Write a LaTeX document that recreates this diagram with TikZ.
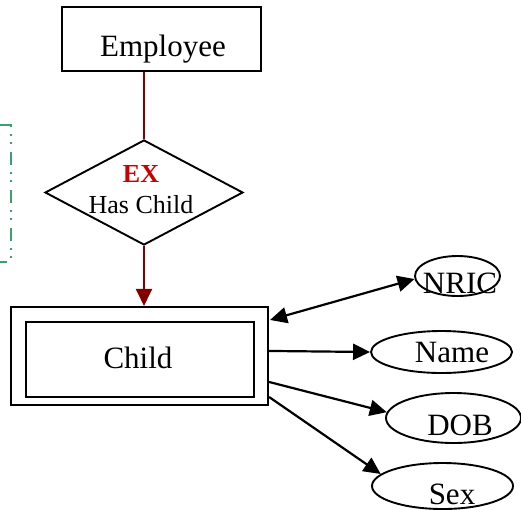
\documentclass[tikz,border=0pt]{standalone}
\usepackage{fontspec}
\setmainfont{Liberation Serif}
\usetikzlibrary{shapes.geometric,arrows.meta,calc}

\definecolor{linkred}{RGB}{128,0,0}
\definecolor{exred}{RGB}{204,0,0}
\definecolor{notegreen}{RGB}{60,160,110}

\begin{document}
\begin{tikzpicture}[x=1pt,y=-1pt,
  entity/.style={draw, rectangle, line width=2.1pt, inner sep=0pt},
  attr/.style={draw, ellipse, line width=1.9pt, inner sep=0pt},
  relshape/.style={draw, diamond, line width=1.9pt, inner sep=0pt},
  bigtext/.style={anchor=base, inner sep=0pt, font=\fontsize{31}{36}\selectfont},
  enttext/.style={anchor=base, inner sep=0pt, font=\fontsize{31}{36}\selectfont},
  reltext/.style={anchor=base, inner sep=0pt, font=\fontsize{26}{30}\selectfont},
  link/.style={line width=2.2pt},
  tipped/.style={-{Triangle[length=17pt,width=16pt]}},
  bothtipped/.style={{Triangle[length=17pt,width=16pt]}-{Triangle[length=17pt,width=16pt]}},
  notebar/.style={draw=notegreen, line width=1.6pt,
    dash pattern=on 13pt off 7pt on 1.5pt off 6.5pt on 1.5pt off 8.5pt}
]
\useasboundingbox (0,0) rectangle (521,509);

% side note bracket
\draw[notebar] (0,125) -- (11,125) -- (11,262) -- (0,262);

% owner entity
\node[entity, minimum width=199pt, minimum height=64pt] (emp) at (161.5,39) {};
\node[enttext] (emptxt) at (163,56) {Employee};

% identifying relationship
\node[relshape, minimum width=198pt, minimum height=105pt] (rel) at (144,192.5) {};
\node[reltext, text=exred, font=\fontsize{26}{30}\selectfont\bfseries] (reltag) at (141,182) {EX};
\node[reltext] (reltxt) at (141,213) {Has Child};

% weak entity
\node[entity, minimum width=257pt, minimum height=98pt] (child) at (139.5,356) {};
\node[entity, minimum width=228pt, minimum height=75pt] (childin) at (140,359.5) {};
\node[enttext] (childtxt) at (138,368) {Child};

% attributes
\node[attr, minimum width=85pt, minimum height=40pt] (nric) at (457.5,276) {};
\node[bigtext] (nrictxt) at (460,293) {NRIC};
\node[attr, minimum width=141pt, minimum height=42pt] (name) at (441.5,352) {};
\node[bigtext] (nametxt) at (452,362) {Name};
\node[attr, minimum width=135pt, minimum height=50pt] (dob) at (453.5,418) {};
\node[bigtext] (dobtxt) at (460,435) {DOB};
\node[attr, minimum width=141pt, minimum height=46pt] (sex) at (442.5,486) {};
\node[bigtext] (sextxt) at (452,504) {Sex};

% relationship links
\draw[link, draw=linkred] (emp.south -| rel.north) -- (rel.north);
\draw[link, draw=linkred, fill=linkred, tipped] (rel.south) -- (rel.south |- child.north);

% attribute links
\draw[link, bothtipped] ($(child.north east)+(1,14)$) -- (nric.184);
\draw[link, tipped] ($(child.north east)+(0,45)$) -- (name.180);
\draw[link, tipped] ($(child.north east)+(0,76)$) -- (dob.175);
\draw[link, tipped] ($(child.north east)+(0,91)$) -- (sex.169);
\end{tikzpicture}
\end{document}
